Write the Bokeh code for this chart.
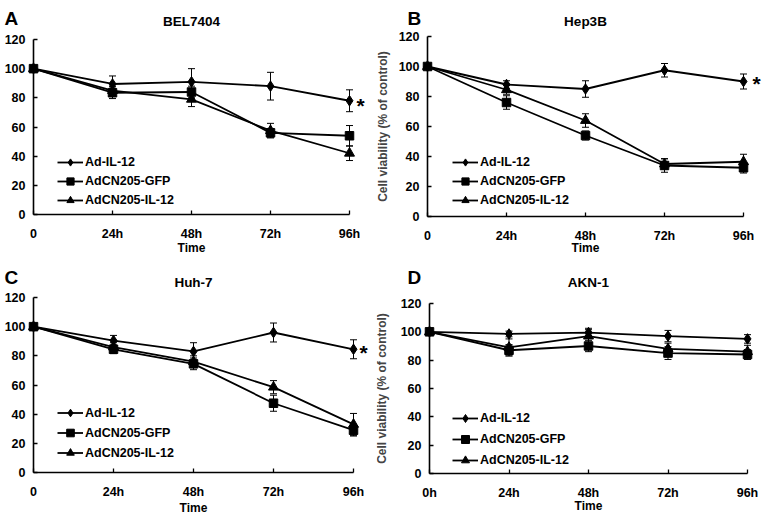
from bokeh.plotting import figure
from bokeh.models import (ColumnDataSource, Whisker, Legend, LegendItem, Label,
                          FixedTicker, TeeHead, Range1d)
from bokeh.layouts import column, row
from bokeh.embed import file_html
from bokeh.resources import INLINE

# ---------------- data ----------------
hours = [0, 24, 48, 72, 96]
xlabels_abc = ["0", "24h", "48h", "72h", "96h"]
xlabels_d = ["0h", "24h", "48h", "72h", "96h"]
y_ticks = [0, 20, 40, 60, 80, 100, 120]
series_names = ["Ad-IL-12", "AdCN205-GFP", "AdCN205-IL-12"]

bel_il12 = [100, 89.5, 91, 88, 78]
bel_il12_err = [0, 5.5, 9, 9.5, 7.5]
bel_gfp = [100, 83.5, 84, 56, 54]
bel_gfp_err = [0, 4, 4, 3, 7]
bel_cn = [100, 85, 79, 57.5, 42]
bel_cn_err = [0, 3, 5, 5, 5]

hep_il12 = [100, 88, 85, 97.5, 90]
hep_il12_err = [0, 2.5, 5.5, 4.5, 5]
hep_gfp = [100, 76, 54, 34, 32.5]
hep_gfp_err = [0, 4.5, 3, 4.5, 3.5]
hep_cn = [100, 84.5, 64, 35, 36.5]
hep_cn_err = [0, 3, 4.5, 3.5, 5]

huh_il12 = [100, 90.5, 83, 96, 84.5]
huh_il12_err = [0, 3.5, 6, 6.5, 6.5]
huh_gfp = [100, 84.5, 74.5, 47.5, 29]
huh_gfp_err = [0, 3, 4, 5.5, 4]
huh_cn = [100, 86, 76, 58.5, 33]
huh_cn_err = [0, 3, 4, 4.5, 7.5]

akn_il12 = [100, 98.5, 99.5, 97, 95]
akn_il12_err = [0, 2, 3, 4, 3]
akn_gfp = [100, 87, 90, 85, 84]
akn_gfp_err = [0, 4, 4, 4.5, 3.5]
akn_cn = [100, 89, 97, 88, 86]
akn_cn_err = [0, 6, 4.5, 4, 4.5]

FONT = "Liberation Sans"
MARKERS = [dict(marker="diamond", size=10.5),
           dict(marker="square", size=8.5),
           dict(marker="triangle", size=10)]


def make_panel(letter, title, values, errs, xlabels, ylabel, star_at, g):
    # g: page-pixel geometry of the panel
    ox, oy, W, H = g["ox"], g["oy"], g["W"], g["H"]
    x0, x96, y0, y120 = g["x0"], g["x96"], g["y0"], g["y120"]

    def dx(px):
        return (px - x0) / (x96 - x0) * 96.0

    def dy(py):
        return (y0 - py) / (y0 - y120) * 120.0

    p = figure(width=W, height=H,
               x_range=Range1d(dx(ox), dx(ox + W)), y_range=Range1d(dy(oy + H), dy(oy)),
               output_backend="svg", toolbar_location=None,
               min_border_left=0, min_border_right=0,
               min_border_top=0, min_border_bottom=0)
    p.outline_line_color = None
    p.grid.visible = False
    p.background_fill_color = "white"
    p.border_fill_color = "white"

    for ax in (p.xaxis[0], p.yaxis[0]):
        ax.fixed_location = 0
        ax.axis_line_width = 1.6
        ax.axis_line_color = "black"
        ax.major_tick_in = 4
        ax.major_tick_out = 0
        ax.major_tick_line_width = 1.3
        ax.minor_tick_line_color = None
        ax.major_label_text_font = FONT
        ax.major_label_text_font_style = "bold"
        ax.major_label_text_font_size = "12.5px"
        ax.major_label_text_color = "black"

    xa = p.xaxis[0]
    xa.ticker = FixedTicker(ticks=hours)
    xa.major_label_overrides = {h: lab for h, lab in zip(hours, xlabels)}
    xa.bounds = (0, 96)
    xa.major_label_standoff = g["xstand"]

    ya = p.yaxis[0]
    ya.ticker = FixedTicker(ticks=y_ticks)
    ya.bounds = (0, 120)
    ya.major_label_standoff = g["ystand"]
    if ylabel:
        ya.axis_label = ylabel
        ya.axis_label_text_font = FONT
        ya.axis_label_text_font_style = "bold"
        ya.axis_label_text_font_size = "12px"
        ya.axis_label_standoff = g["ylstand"]

    items = []
    for name, vals, er, mk in zip(series_names, values, errs, MARKERS):
        src = ColumnDataSource(dict(x=hours, y=vals))
        lr = p.line("x", "y", source=src, line_color="black", line_width=1.8)
        ex = [h for h, e in zip(hours, er) if e > 0]
        up = [v + e for v, e in zip(vals, er) if e > 0]
        lo = [v - e for v, e in zip(vals, er) if e > 0]
        wsrc = ColumnDataSource(dict(x=ex, upper=up, lower=lo))
        w = Whisker(source=wsrc, base="x", upper="upper", lower="lower",
                    line_color="black", line_width=1,
                    upper_head=TeeHead(size=7, line_width=1, line_color="black"),
                    lower_head=TeeHead(size=7, line_width=1, line_color="black"))
        w.level = "glyph"
        p.add_layout(w)
        sr = p.scatter("x", "y", source=src, marker=mk["marker"], size=mk["size"],
                       fill_color="black", line_color="black")
        items.append(LegendItem(label=name, renderers=[lr, sr]))

    leg = Legend(items=items, location=(g["lx"] - ox, oy + H - g["lbottom"]),
                 glyph_width=g["gw"], glyph_height=g["gh"], label_height=g["gh"],
                 label_standoff=2, spacing=1, padding=0, margin=0,
                 border_line_color=None, background_fill_alpha=0,
                 label_text_font=FONT, label_text_font_style="bold",
                 label_text_font_size="12.5px", label_text_color="black")
    p.add_layout(leg)

    p.add_layout(Label(x=48, y=dy(g["ty"]), text=title, text_align="center",
                       text_baseline="middle", text_font=FONT, text_font_style="bold",
                       text_font_size="13.5px", text_color="black"))
    p.add_layout(Label(x=dx(g["letx"]), y=dy(g["lety"]), text=letter, text_align="left",
                       text_baseline="alphabetic", text_font=FONT, text_font_style="bold",
                       text_font_size="19px", text_color="black"))
    p.add_layout(Label(x=48, y=dy(g["timey"]), text="Time", text_align="center",
                       text_baseline="middle", text_font=FONT, text_font_style="bold",
                       text_font_size="12px", text_color="black"))
    if star_at is not None:
        p.add_layout(Label(x=dx(star_at[0]), y=dy(star_at[1]), text="*",
                           text_align="center", text_baseline="middle", text_font=FONT,
                           text_font_style="bold", text_font_size="21px",
                           text_color="black"))
    return p


gA = dict(ox=0, oy=0, W=376, H=258, x0=33, x96=349, y0=214, y120=39,
          xstand=12, ystand=8, ylstand=6, lx=57, lbottom=209, gw=26, gh=18,
          ty=21, timey=247, letx=4, lety=18)
gB = dict(ox=376, oy=0, W=387, H=258, x0=427, x96=743, y0=216, y120=36,
          xstand=12, ystand=8, ylstand=6, lx=452, lbottom=209, gw=26, gh=18,
          ty=21, timey=247, letx=407, lety=18)
gC = dict(ox=0, oy=258, W=376, H=257, x0=33, x96=353, y0=472, y120=297,
          xstand=12, ystand=8, ylstand=6, lx=57, lbottom=462, gw=26, gh=19,
          ty=282, timey=507, letx=4, lety=277)
gD = dict(ox=376, oy=258, W=387, H=257, x0=429, x96=747, y0=473, y120=303,
          xstand=12, ystand=8, ylstand=9, lx=452, lbottom=470, gw=26, gh=20,
          ty=282, timey=505, letx=407, lety=277)

pA = make_panel("A", "BEL7404", [bel_il12, bel_gfp, bel_cn],
                [bel_il12_err, bel_gfp_err, bel_cn_err], xlabels_abc, None, (360, 105), gA)
pB = make_panel("B", "Hep3B", [hep_il12, hep_gfp, hep_cn],
                [hep_il12_err, hep_gfp_err, hep_cn_err], xlabels_abc,
                "Cell viability (% of control)", (756, 83), gB)
pC = make_panel("C", "Huh-7", [huh_il12, huh_gfp, huh_cn],
                [huh_il12_err, huh_gfp_err, huh_cn_err], xlabels_abc, None, (363, 352), gC)
pD = make_panel("D", "AKN-1", [akn_il12, akn_gfp, akn_cn],
                [akn_il12_err, akn_gfp_err, akn_cn_err], xlabels_d,
                "Cell viability (% of control)", None, gD)

layout = column(row(pA, pB), row(pC, pD))
open("out.html", "w").write(file_html(layout, INLINE))
